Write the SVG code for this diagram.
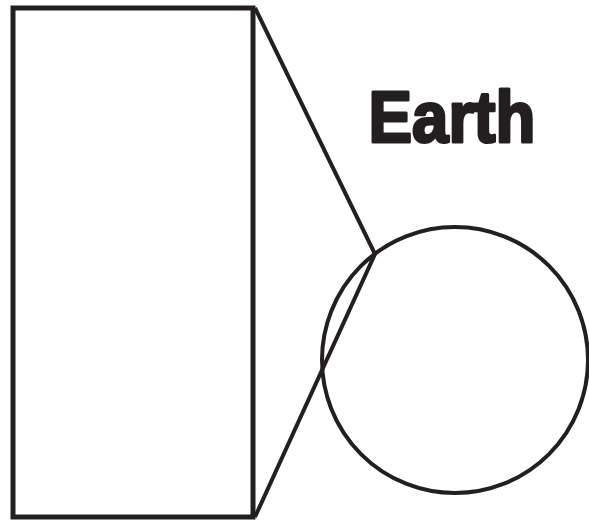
<svg xmlns="http://www.w3.org/2000/svg" width="589" height="521" viewBox="0 0 589 521">
<style>
.ln{fill:none;stroke:#231f20;stroke-linejoin:miter}
.lbl{font-family:"Liberation Sans",Arial,sans-serif;font-weight:bold;fill:#231f20;stroke:#231f20;stroke-width:3;stroke-linejoin:round}
</style>
<rect width="589" height="521" fill="#fff"/>
<g id="panel"><rect class="ln" x="13" y="8" width="240" height="509" stroke-width="5"/></g>
<g id="earth"><circle class="ln" cx="455" cy="360" r="133" stroke-width="4"/></g>
<g id="connectors"><polyline class="ln" points="255,8 375,254 255,517" stroke-width="4"/></g>
<g id="label"><text class="lbl" x="368.5" y="141.5" font-size="72" textLength="167" lengthAdjust="spacingAndGlyphs">Earth</text></g>
</svg>
